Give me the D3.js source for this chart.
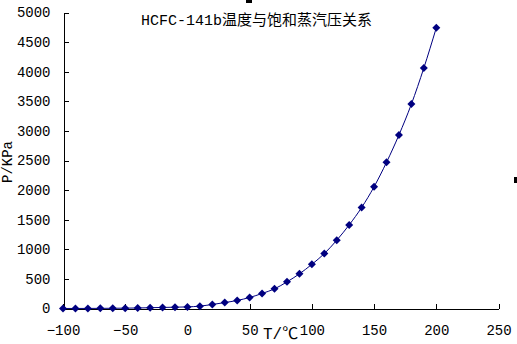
<!DOCTYPE html>
<html lang="zh">
<head>
    <meta charset="UTF-8">
    <title>HCFC-141b温度与饱和蒸汽压关系</title>
    <style>
        body { margin: 0; background: #fff; }
        .axis path, .axis line { fill: none; stroke: #000; stroke-width: 1; shape-rendering: crispEdges; }
        .axis text { font-family: "Liberation Mono", "Noto Sans CJK SC", monospace; font-size: 14px; fill: #000; }
        .lbl { font-family: "Liberation Mono", "Noto Sans CJK SC", monospace; font-size: 14px; fill: #000; }
    </style>
</head>
<body>
<script src="https://cdn.jsdelivr.net/npm/d3@7"></script>
<script>
    const temps = [-100, -90, -80, -70, -60, -50, -40, -30, -20, -10,
                   0, 10, 20, 30, 40, 50, 60, 70, 80, 90,
                   100, 110, 120, 130, 140, 150, 160, 170, 180, 190, 200];
    const pressures = [0.3, 0.8, 1.5, 2.5, 4, 6, 9, 13, 18, 22,
                       27, 40, 68, 100, 136, 186, 254, 332, 450, 585,
                       746, 927, 1153, 1412, 1706, 2056, 2469, 2932, 3453, 4063, 4741];
    const xTicks = [-100, -50, 0, 50, 100, 150, 200, 250];
    const yTicks = [0, 500, 1000, 1500, 2000, 2500, 3000, 3500, 4000, 4500, 5000];

    const W = 517, H = 344;
    const svg = d3.select('body').append('svg').attr('width', W).attr('height', H);

    const x = d3.scaleLinear([-100, 250], [63, 498.5]);
    const y = d3.scaleLinear([0, 5000], [308.5, 12.5]);

    svg.append('g').attr('class', 'axis')
        .attr('transform', 'translate(0,308.5)')
        .call(d3.axisBottom(x).tickValues(xTicks).tickFormat(d3.format('d'))
            .tickSizeInner(-5).tickSizeOuter(0).tickPadding(17))
        .call(g => g.selectAll('text').attr('dy', '0.71em'));

    svg.append('g').attr('class', 'axis')
        .attr('transform', 'translate(63.5,0)')
        .call(d3.axisLeft(y).tickValues(yTicks).tickFormat(d3.format('d'))
            .tickSizeInner(-5).tickSizeOuter(0).tickPadding(13));

    const pts = temps.map((t, i) => [t, pressures[i]]);

    svg.append('path')
        .datum(pts)
        .attr('fill', 'none')
        .attr('stroke', '#000080')
        .attr('stroke-width', 1)
        .attr('d', d3.line().x(d => x(d[0])).y(d => y(d[1])).curve(d3.curveMonotoneX));

    svg.selectAll('path.pt')
        .data(pts)
        .enter().append('path')
        .attr('class', 'pt')
        .attr('fill', '#000080')
        .attr('transform', d => `translate(${x(d[0])},${y(d[1])})`)
        .attr('d', 'M0,-4L4,0L0,4L-4,0Z');

    svg.append('text').attr('class', 'lbl')
        .attr('x', 141).attr('y', 25)
        .style('font-size', '15px')
        .text('HCFC-141b温度与饱和蒸汽压关系');

    svg.append('text').attr('class', 'lbl')
        .attr('transform', 'translate(12,162) rotate(-90)')
        .attr('text-anchor', 'middle')
        .text('P/KPa');

    svg.append('text').attr('class', 'lbl')
        .attr('x', 263).attr('y', 339)
        .style('font-size', '16px')
        .text('T/℃');

    // selection handles visible in the picture
    svg.append('rect').attr('x', 246).attr('y', 0).attr('width', 6).attr('height', 3).attr('fill', '#000');
    svg.append('rect').attr('x', 514).attr('y', 177).attr('width', 3).attr('height', 6).attr('fill', '#000');
</script>
</body>
</html>
